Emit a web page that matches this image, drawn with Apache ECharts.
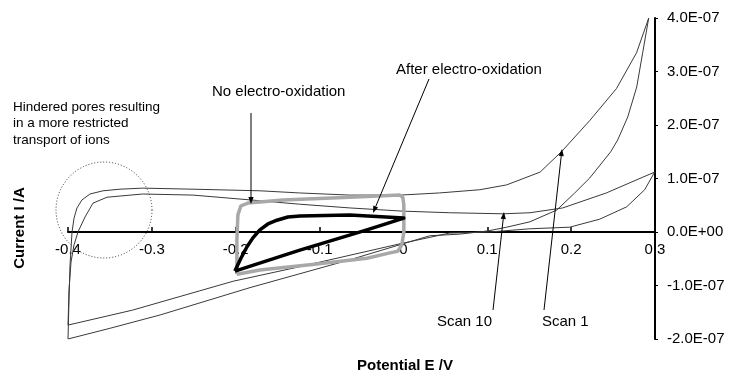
<!DOCTYPE html>
<html><head><meta charset="utf-8">
<script src="https://cdn.jsdelivr.net/npm/echarts@6/dist/echarts.min.js"></script>
<style>html,body{margin:0;padding:0;background:#fff}#c{width:735px;height:378px}</style>
</head><body><div id="c"></div>
<script>
// Potential (V) and current (A)
const scan1X = [-0.400,-0.3988,-0.3976,-0.3952,-0.3928,-0.3893,-0.3833,-0.3738,-0.3583,-0.338,-0.311,-0.251,-0.171,-0.124,-0.064,-0.004,0.043,0.091,0.123,0.163,0.189,0.222,0.254,0.278,0.2925,
  0.2853,0.2782,0.2675,0.2555,0.2472,0.2222,0.2043,0.1828,0.1507,0.1232,0.1006,0.0672,0.0315,-0.064,-0.183,-0.290,-0.350,-0.400];
const scan1Y = [-2.00e-7,-1.27e-7,-0.62e-7,0.00e-7,0.26e-7,0.45e-7,0.60e-7,0.71e-7,0.77e-7,0.80e-7,0.82e-7,0.80e-7,0.77e-7,0.73e-7,0.69e-7,0.69e-7,0.73e-7,0.79e-7,0.88e-7,1.12e-7,1.51e-7,2.08e-7,2.68e-7,3.35e-7,4.00e-7,
  3.35e-7,2.71e-7,2.15e-7,1.72e-7,1.50e-7,1.01e-7,0.73e-7,0.41e-7,0.19e-7,0.09e-7,0.02e-7,-0.04e-7,-0.07e-7,-0.52e-7,-1.04e-7,-1.55e-7,-1.80e-7,-2.00e-7];

const scan10X = [-0.400,-0.3988,-0.3964,-0.3928,-0.3881,-0.3797,-0.3702,-0.3535,-0.311,-0.251,-0.183,-0.124,-0.064,-0.001,0.055,0.119,0.151,0.190,0.242,0.270,0.2996,
  0.2877,0.2662,0.2341,0.1983,0.1507,0.103,0.055,-0.004,-0.124,-0.203,-0.243,-0.323,-0.400];
const scan10Y = [-1.74e-7,-1.08e-7,-0.56e-7,-0.24e-7,0.00e-7,0.28e-7,0.54e-7,0.65e-7,0.71e-7,0.69e-7,0.60e-7,0.52e-7,0.45e-7,0.39e-7,0.36e-7,0.34e-7,0.36e-7,0.45e-7,0.73e-7,0.92e-7,1.12e-7,
  0.79e-7,0.47e-7,0.24e-7,0.09e-7,0.06e-7,0.00e-7,-0.02e-7,-0.22e-7,-0.65e-7,-0.92e-7,-1.10e-7,-1.46e-7,-1.74e-7];

const noOxX = [-0.1986,-0.1986,-0.1974,-0.1938,-0.1855,-0.1437,-0.0639,-0.0043,-0.0007,0.0005,0.0005,-0.0019,-0.0067,-0.0162,-0.0436,-0.1032,-0.1712,-0.1986];
const noOxY = [-0.79e-7,-0.15e-7,0.32e-7,0.49e-7,0.54e-7,0.60e-7,0.65e-7,0.69e-7,0.65e-7,0.50e-7,0.00e-7,-0.24e-7,-0.36e-7,-0.39e-7,-0.49e-7,-0.60e-7,-0.71e-7,-0.79e-7];

const afterOxX = [-0.201,-0.1938,-0.1867,-0.1795,-0.1712,-0.1616,-0.1509,-0.1378,-0.1235,-0.0639,0.0005,-0.0436,-0.1235,-0.201];
const afterOxY = [-0.73e-7,-0.49e-7,-0.28e-7,-0.11e-7,0.04e-7,0.15e-7,0.22e-7,0.28e-7,0.30e-7,0.32e-7,0.26e-7,0.04e-7,-0.34e-7,-0.73e-7];

const xMin = -0.4, xMax = 0.3, xStep = 0.1;
const yMin = -2e-7, yMax = 4e-7, yStep = 1e-7;

const FONT = '"Liberation Sans", Arial, Helvetica, sans-serif';
const GRID = { left: 68, right: 80, top: 18, bottom: 39 };
const CH = 378;

function pairs(xs, ys) { return xs.map((x, i) => [x, ys[i]]); }

function sci(v) {
  if (Math.abs(v) < 1e-15) return '0.0E+00';
  const e = Math.floor(Math.log10(Math.abs(v)) + 1e-9);
  const m = v / Math.pow(10, e);
  return m.toFixed(1) + 'E' + (e < 0 ? '-' : '+') + String(Math.abs(e)).padStart(2, '0');
}

function arrow(x1, y1, x2, y2) {
  const a = Math.atan2(y2 - y1, x2 - x1), L = 7, W = 2.6;
  const bx = x2 - L * Math.cos(a), by = y2 - L * Math.sin(a);
  const px = -Math.sin(a) * W, py = Math.cos(a) * W;
  return [
    { type: 'line', shape: { x1, y1, x2: bx, y2: by }, style: { stroke: '#000', lineWidth: 1 }, z: 100 },
    { type: 'polygon', shape: { points: [[x2, y2], [bx + px, by + py], [bx - px, by - py]] }, style: { fill: '#000' }, z: 100 }
  ];
}

function label(text, x, y, size) {
  return { type: 'text', x, y, z: 100, style: { text, fill: '#000', font: size + 'px ' + FONT, align: 'left', verticalAlign: 'middle' } };
}

// distance from the grid bottom up to the y = 0 level, so the x axis sits on zero
const gridH = CH - GRID.top - GRID.bottom;
const zeroOffset = gridH * (0 - yMin) / (yMax - yMin);

const thin = { color: '#3a3a3a', width: 1 };

const chart = echarts.init(document.getElementById('c'), null, { renderer: 'canvas' });
chart.setOption({
  animation: false,
  backgroundColor: '#fff',
  grid: GRID,
  xAxis: {
    type: 'value', min: xMin, max: xMax, interval: xStep,
    position: 'bottom', offset: -zeroOffset,
    axisLine: { onZero: false, lineStyle: { color: '#000', width: 2 } },
    axisTick: { show: true, inside: true, length: 5, lineStyle: { color: '#000', width: 1.5 } },
    axisLabel: { color: '#000', fontSize: 15, fontFamily: FONT, margin: 10 },
    splitLine: { show: false }
  },
  yAxis: {
    type: 'value', position: 'right', min: yMin, max: yMax, interval: yStep,
    axisLine: { show: true, onZero: false, lineStyle: { color: '#000', width: 2 } },
    axisTick: { show: true, length: 3, lineStyle: { color: '#000' } },
    axisLabel: { color: '#000', fontSize: 15, fontFamily: FONT, margin: 12, formatter: sci },
    splitLine: { show: false }
  },
  series: [
    { name: 'Scan 1', type: 'line', data: pairs(scan1X, scan1Y), showSymbol: false, symbol: 'none', lineStyle: thin, z: 2 },
    { name: 'Scan 10', type: 'line', data: pairs(scan10X, scan10Y), showSymbol: false, symbol: 'none', lineStyle: thin, z: 2 },
    { name: 'No electro-oxidation', type: 'line', data: pairs(noOxX, noOxY), showSymbol: false, symbol: 'none', lineStyle: { color: '#a8a8a8', width: 3.5 }, z: 3 },
    { name: 'After electro-oxidation', type: 'line', data: pairs(afterOxX, afterOxY), showSymbol: false, symbol: 'none', lineStyle: { color: '#000', width: 3.5, join: 'round' }, z: 4 }
  ],
  graphic: [
    { type: 'text', x: 20, y: 228, rotation: Math.PI / 2, z: 100,
      style: { text: 'Current I /A', fill: '#000', font: 'bold 15px ' + FONT, align: 'center', verticalAlign: 'middle' } },
    { type: 'text', x: 405, y: 366, z: 100,
      style: { text: 'Potential E /V', fill: '#000', font: 'bold 15px ' + FONT, align: 'center', verticalAlign: 'middle' } },
    label('Hindered pores resulting', 13, 107, 13.5),
    label('in a more restricted', 13, 123, 13.5),
    label('transport of ions', 13, 140, 13.5),
    label('No electro-oxidation', 212, 92, 15),
    label('After electro-oxidation', 396, 70, 15),
    label('Scan 10', 437, 322, 15),
    label('Scan 1', 542, 322, 15),
    { type: 'circle', shape: { cx: 104, cy: 210, r: 48 }, z: 100,
      style: { fill: 'none', stroke: '#333', lineWidth: 1, lineDash: [1, 2] } },
    ...arrow(251, 113, 251, 204),
    ...arrow(429, 79, 373, 213),
    ...arrow(493, 310, 504, 212),
    ...arrow(544, 310, 562, 149)
  ]
});
</script>
</body></html>
